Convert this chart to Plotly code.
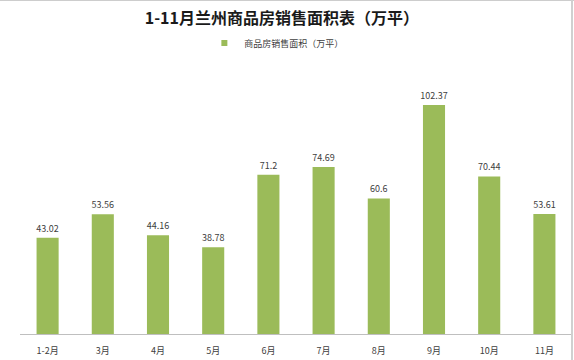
import plotly.graph_objects as go

categories = ["1-2月", "3月", "4月", "5月", "6月", "7月", "8月", "9月", "10月", "11月"]
values = [43.02, 53.56, 44.16, 38.78, 71.2, 74.69, 60.6, 102.37, 70.44, 53.61]
labels = ["43.02", "53.56", "44.16", "38.78", "71.2", "74.69", "60.6", "102.37", "70.44", "53.61"]
series_name = "商品房销售面积（万平）"
title_text = "1-11月兰州商品房销售面积表（万平）"

GREEN = "#9BBB59"
FONT = "Noto Sans CJK SC, Noto Sans, sans-serif"

fig = go.Figure()
fig.add_trace(go.Bar(
    x=categories, y=values, text=labels, textposition="outside",
    constraintext="none",
    textfont=dict(size=9, color="#404040", family=FONT),
    marker=dict(color=GREEN, line=dict(width=0)),
    showlegend=False, cliponaxis=False, name=series_name,
))
# legend entry with small square marker
fig.add_trace(go.Scatter(
    x=[None], y=[None], mode="markers", name=series_name,
    marker=dict(symbol="square", size=6, color=GREEN),
    showlegend=True,
))

fig.update_layout(
    width=574, height=360,
    margin=dict(l=20, r=2, t=60, b=26),
    paper_bgcolor="white", plot_bgcolor="white",
    bargap=0.6,
    font=dict(family=FONT, color="#404040"),
    title=dict(text="<b>" + title_text + "</b>", x=0.491, xref="container", xanchor="center",
               y=0.95, yref="container", yanchor="middle",
               font=dict(size=16, color="#1a1a1a", family=FONT)),
    legend=dict(orientation="h", x=0.334, xanchor="left", y=1 - 43 / 360, yref="container",
                yanchor="middle", font=dict(size=9, color="#404040", family=FONT),
                itemwidth=30, bgcolor="rgba(0,0,0,0)"),
    xaxis=dict(showline=True, linecolor="#BFBFBF", linewidth=1, ticks="outside",
               ticklen=8, tickcolor="rgba(0,0,0,0)",
               tickfont=dict(size=9, color="#404040", family=FONT), showgrid=False,
               fixedrange=True),
    yaxis=dict(range=[0, 122.5], visible=False, showgrid=False, fixedrange=True),
    shapes=[
        dict(type="line", xref="paper", yref="paper", x0=-0.04, x1=1.004, y0=1.22, y1=1.22,
             line=dict(color="#BDBDBD", width=2)),
        dict(type="line", xref="paper", yref="paper", x0=1.0, x1=1.0, y0=-0.1, y1=1.22,
             line=dict(color="#D0D0D0", width=2)),
    ],
)

fig.write_html("out.html")
